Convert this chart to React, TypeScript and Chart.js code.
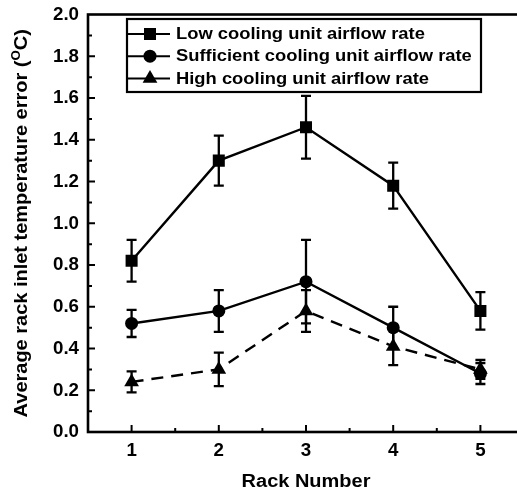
import React, { useEffect, useRef } from "react";
import { Chart, registerables } from "chart.js";

Chart.register(...registerables);

const racks = [1, 2, 3, 4, 5];
const lowLabel = "Low cooling unit airflow rate";
const sufLabel = "Sufficient cooling unit airflow rate";
const highLabel = "High cooling unit airflow rate";

const lowValues = [0.82, 1.3, 1.46, 1.18, 0.58];
const lowErrors = [0.1, 0.12, 0.15, 0.11, 0.09];
const sufValues = [0.52, 0.58, 0.72, 0.5, 0.28];
const sufErrors = [0.065, 0.1, 0.2, 0.1, 0.05];
const highValues = [0.24, 0.3, 0.58, 0.41, 0.3];
const highErrors = [0.05, 0.08, 0.1, 0.09, 0.045];

const yTicks = [0, 0.2, 0.4, 0.6, 0.8, 1.0, 1.2, 1.4, 1.6, 1.8, 2.0];

const FONT = "Arial, 'Liberation Sans', sans-serif";
const INK = "#000";

const errorSets = [lowErrors, sufErrors, highErrors];

// Bold text drawn with a slight horizontal stretch.
function wideText(
  ctx: CanvasRenderingContext2D,
  text: string,
  x: number,
  y: number,
  size: number,
  stretch: number,
  align: "left" | "center" | "right"
) {
  ctx.save();
  ctx.font = `bold ${size}px ${FONT}`;
  ctx.textBaseline = "middle";
  ctx.textAlign = "left";
  const w = ctx.measureText(text).width * stretch;
  let sx = x;
  if (align === "center") sx = x - w / 2;
  if (align === "right") sx = x - w;
  ctx.translate(sx, y);
  ctx.scale(stretch, 1);
  ctx.fillText(text, 0, 0);
  ctx.restore();
  return w;
}

const errorBars = {
  id: "errorBars",
  afterDatasetsDraw(chart: any) {
    const ctx = chart.ctx;
    const y = chart.scales.y;
    ctx.save();
    ctx.strokeStyle = INK;
    ctx.lineWidth = 2.3;
    chart.data.datasets.forEach((ds: any, di: number) => {
      const meta = chart.getDatasetMeta(di);
      ds.data.forEach((pt: any, i: number) => {
        const e = errorSets[di][i];
        const px = meta.data[i].x;
        const top = y.getPixelForValue(pt.y + e);
        const bot = y.getPixelForValue(pt.y - e);
        ctx.beginPath();
        ctx.moveTo(px, top);
        ctx.lineTo(px, bot);
        ctx.moveTo(px - 5, top);
        ctx.lineTo(px + 5, top);
        ctx.moveTo(px - 5, bot);
        ctx.lineTo(px + 5, bot);
        ctx.stroke();
      });
    });
    ctx.restore();
  },
};

const frame = {
  id: "frame",
  afterDraw(chart: any) {
    const ctx = chart.ctx;
    const { left, right, top, bottom } = chart.chartArea;
    const xs = chart.scales.x;
    const ys = chart.scales.y;
    ctx.save();
    ctx.strokeStyle = INK;
    ctx.fillStyle = INK;
    ctx.lineWidth = 2.6;
    ctx.strokeRect(left, top, right - left, bottom - top);

    // inward ticks
    ctx.lineWidth = 2;
    ctx.beginPath();
    for (let v = 1; v <= 5; v += 0.5) {
      const px = xs.getPixelForValue(v);
      const len = Number.isInteger(v) ? 7 : 4;
      ctx.moveTo(px, bottom);
      ctx.lineTo(px, bottom - len);
    }
    for (let k = 1; k < 20; k++) {
      const py = ys.getPixelForValue(k / 10);
      const len = k % 2 === 0 ? 7 : 4;
      ctx.moveTo(left, py);
      ctx.lineTo(left + len, py);
    }
    ctx.stroke();

    // tick labels
    yTicks.forEach((v) => {
      wideText(ctx, v.toFixed(1), left - 9, ys.getPixelForValue(v) + 0.5, 17.5, 1.07, "right");
    });
    racks.forEach((v) => {
      wideText(ctx, String(v), xs.getPixelForValue(v), bottom + 19.5, 17.5, 1.07, "center");
    });

    // axis titles
    wideText(ctx, "Rack Number", (left + right) / 2, 482, 18, 1.11, "center");

    ctx.save();
    ctx.translate(22, (top + bottom) / 2);
    ctx.rotate(-Math.PI / 2);
    const main = "Average rack inlet temperature error (";
    const sup = "O";
    const tail = "C)";
    const st = 1.11;
    ctx.font = `bold 18px ${FONT}`;
    const wMain = ctx.measureText(main).width * st;
    const wTail = ctx.measureText(tail).width * st;
    ctx.font = `bold 12px ${FONT}`;
    const wSup = ctx.measureText(sup).width * st;
    let cx = -(wMain + wSup + wTail) / 2;
    wideText(ctx, main, cx, 0, 18, st, "left");
    cx += wMain;
    wideText(ctx, sup, cx, -5, 12, st, "left");
    cx += wSup;
    wideText(ctx, tail, cx, 0, 18, st, "left");
    ctx.restore();

    // legend
    const lx = 127, ly = 19, lw = 354, lh = 73;
    ctx.lineWidth = 2.2;
    ctx.fillStyle = "#fff";
    ctx.fillRect(lx, ly, lw, lh);
    ctx.strokeRect(lx, ly, lw, lh);
    const rows = [
      { label: lowLabel, style: "rect", r: 8 },
      { label: sufLabel, style: "circle", r: 6.5 },
      { label: highLabel, style: "triangle", r: 8.5 },
    ];
    rows.forEach((row, i) => {
      const ry = 34 + i * 22.2;
      ctx.strokeStyle = INK;
      ctx.lineWidth = 2;
      ctx.beginPath();
      ctx.moveTo(lx, ry);
      ctx.lineTo(lx + 43, ry);
      ctx.stroke();
      ctx.fillStyle = INK;
      const mx = lx + 23;
      ctx.beginPath();
      if (row.style === "rect") {
        ctx.rect(mx - 6, ry - 6, 12, 12);
      } else if (row.style === "circle") {
        ctx.arc(mx, ry, row.r, 0, Math.PI * 2);
      } else {
        const r = row.r;
        ctx.moveTo(mx, ry - r);
        ctx.lineTo(mx + r * 0.866, ry + r / 2);
        ctx.lineTo(mx - r * 0.866, ry + r / 2);
        ctx.closePath();
      }
      ctx.fill();
      wideText(ctx, row.label, lx + 49, ry + 0.5, 17, 1.08, "left");
    });
    ctx.restore();
  },
};

export default function App() {
  const ref = useRef<HTMLCanvasElement>(null);

  useEffect(() => {
    if (!ref.current) return;
    const mk = (vals: number[]) => vals.map((v, i) => ({ x: racks[i], y: v }));
    const common = {
      showLine: true,
      borderColor: INK,
      backgroundColor: INK,
      borderWidth: 2.4,
      pointBorderWidth: 0,
    };
    const chart = new Chart(ref.current, {
      type: "scatter",
      data: {
        datasets: [
          { ...common, label: lowLabel, data: mk(lowValues), pointStyle: "rect", pointRadius: 8.5 },
          { ...common, label: sufLabel, data: mk(sufValues), pointStyle: "circle", pointRadius: 6.5 },
          {
            ...common,
            label: highLabel,
            data: mk(highValues),
            borderDash: [12, 8],
            pointStyle: "triangle",
            pointRadius: 8.5,
          },
        ],
      },
      options: {
        responsive: false,
        animation: false,
        layout: { padding: { top: 14.5, right: 16, left: 0, bottom: 0 } },
        plugins: {
          legend: { display: false },
          tooltip: { enabled: false },
        },
        scales: {
          x: {
            type: "linear",
            min: 0.5,
            max: 5.5,
            afterFit: (s: any) => {
              s.height = 63;
            },
            grid: { display: false, drawTicks: false },
            border: { display: false },
            ticks: { display: false },
          },
          y: {
            min: 0,
            max: 2.0,
            afterFit: (s: any) => {
              s.width = 88;
            },
            grid: { display: false, drawTicks: false },
            border: { display: false },
            ticks: { display: false },
          },
        },
      },
      plugins: [errorBars, frame],
    });
    return () => chart.destroy();
  }, []);

  return (
    <div
      style={{
        position: "fixed",
        left: 0,
        top: 0,
        width: 517,
        height: 495,
        overflow: "hidden",
        background: "#fff",
      }}
    >
      <canvas ref={ref} width={540} height={495} style={{ display: "block" }} />
    </div>
  );
}
